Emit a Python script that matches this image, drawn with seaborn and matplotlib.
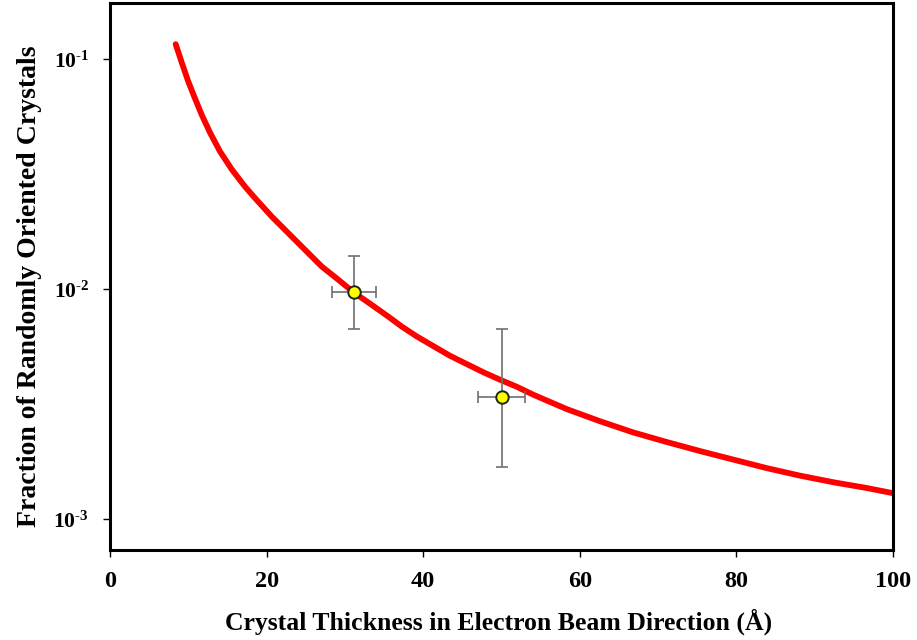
import numpy as np
import pandas as pd
import matplotlib
matplotlib.use("Agg")
import matplotlib.pyplot as plt
import seaborn as sns

# Fitted curve
curve_x = [8.39, 9.16, 10.0, 10.86, 11.71, 12.77, 14.05, 15.54, 17.24, 18.52, 20.65,
           22.77, 24.9, 27.04, 29.16, 31.16, 33.42, 35.54, 37.25, 39.2, 43.4, 47.7,
           49.8, 51.9, 54.1, 58.3, 62.6, 66.8, 71.1, 75.4, 79.6, 83.9, 88.1, 92.4,
           96.6, 100.0]
curve_y = [0.1165, 0.0970, 0.0801, 0.0676, 0.0575, 0.0481, 0.0398, 0.0333, 0.0280,
           0.02495, 0.02075, 0.01757, 0.01487, 0.01258, 0.01102, 0.00969, 0.00857,
           0.00762, 0.00690, 0.00624, 0.00515, 0.00436, 0.00405, 0.00378, 0.00348,
           0.00302, 0.00267, 0.00239, 0.00217, 0.00198, 0.00182, 0.00167, 0.00155,
           0.00145, 0.00137, 0.00130]

# Measured points
pt_x = [31.2, 50.0]
pt_y = [0.00973, 0.00339]
pt_xerr = [2.8, 3.0]
pt_y_low = [0.00672, 0.00169]
pt_y_high = [0.01403, 0.00674]

x_ticks = [0, 20, 40, 60, 80, 100]
y_ticks = [1e-3, 1e-2, 1e-1]
y_tick_labels = [r"$\mathbf{10^{\text{-}3}}$", r"$\mathbf{10^{\text{-}2}}$",
                 r"$\mathbf{10^{\text{-}1}}$"]

sns.set_theme(style="white")
plt.rcParams["font.family"] = ["Liberation Serif", "DejaVu Serif"]
plt.rcParams["mathtext.fontset"] = "custom"
plt.rcParams["mathtext.bf"] = "Liberation Serif:bold"
plt.rcParams["mathtext.rm"] = "Liberation Serif:bold"
plt.rcParams["text.color"] = "black"
plt.rcParams["axes.labelcolor"] = "black"
plt.rcParams["xtick.color"] = "black"
plt.rcParams["ytick.color"] = "black"

fig = plt.figure(figsize=(9.17, 6.4), dpi=100)
ax = fig.add_axes([110 / 917, 1 - 550 / 640, (893 - 110) / 917, (550 - 3) / 640])

curve = pd.DataFrame({"x": curve_x, "y": curve_y})
sns.lineplot(data=curve, x="x", y="y", ax=ax, color="#ff0000", linewidth=4.2,
             solid_capstyle="round", solid_joinstyle="round", sort=True)

yerr = np.array([[y - lo for y, lo in zip(pt_y, pt_y_low)],
                 [hi - y for y, hi in zip(pt_y, pt_y_high)]])
ax.errorbar(pt_x, pt_y, xerr=pt_xerr, yerr=yerr, fmt="none", ecolor="#707070",
            elinewidth=1.2, capsize=4.5, capthick=1.2, zorder=3)
pts = pd.DataFrame({"x": pt_x, "y": pt_y})
sns.scatterplot(data=pts, x="x", y="y", ax=ax, s=80, color="#ffff00",
                edgecolor="#1a2a10", linewidth=1.4, zorder=4)

ax.set_yscale("log")
ax.set_xlim(0, 100)
ax.set_ylim(7.36e-4, 0.176)
ax.set_xticks(x_ticks)
ax.set_xticklabels([str(v) for v in x_ticks], fontsize=17.5, fontweight="bold")
ax.set_yticks(y_ticks)
ax.set_yticklabels(y_tick_labels, fontsize=15.5)
ax.yaxis.set_minor_locator(matplotlib.ticker.NullLocator())
ax.tick_params(axis="x", which="major", direction="out", length=5, width=1.0,
               color="black", bottom=True, pad=10)
ax.tick_params(axis="y", which="major", direction="out", length=5, width=1.0,
               color="black", left=True, pad=10)

for s in ax.spines.values():
    s.set_linewidth(2.2)
    s.set_color("black")

ax.set_xlabel("Crystal Thickness in Electron Beam Direction (Å)", fontsize=18.5,
              fontweight="bold")
ax.set_ylabel("Fraction of Randomly Oriented Crystals", fontsize=20,
              fontweight="bold")
ax.xaxis.label.set_va("center")
ax.yaxis.label.set_va("center")
ax.xaxis.set_label_coords(0.496, (550 - 622) / 547)
ax.yaxis.set_label_coords((30 - 110) / 783, (550 - 286.5) / 547)

fig.savefig("out.png", dpi=100, facecolor="white")
